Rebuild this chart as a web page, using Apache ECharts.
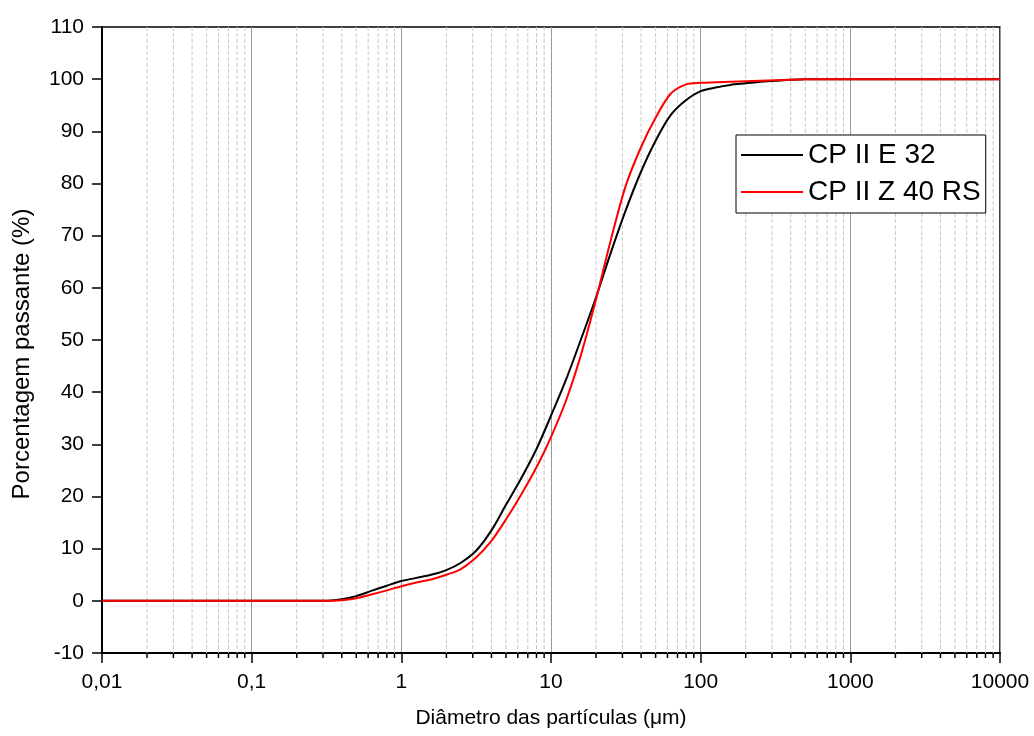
<!DOCTYPE html>
<html>
<head>
<meta charset="utf-8">
<script src="https://cdn.jsdelivr.net/npm/echarts@6/dist/echarts.min.js"></script>
<style>
html,body{margin:0;padding:0;background:#fff;}
#chart{width:1034px;height:736px;}
</style>
</head>
<body>
<div id="chart"></div>
<script>
// diametro das particulas (um)
var diametros = [0.01, 0.03, 0.1, 0.2, 0.3, 0.4, 0.5, 0.63, 0.8, 1, 1.26, 1.58, 2, 2.5, 3.16, 4, 5, 6.3, 8, 10, 12.6, 15.8, 20, 25, 31.6, 40, 50, 63, 80, 100, 126, 158, 200, 250, 316, 400, 500, 800, 1500, 3000, 10000];
// CP II E 32
var cpE32 = [0, 0, 0, 0, 0, 0.3, 0.9, 1.9, 2.9, 3.8, 4.4, 5.0, 5.9, 7.3, 9.6, 13.5, 18.4, 23.4, 29.1, 35.5, 42.4, 50.0, 58.2, 66.6, 74.9, 82.3, 88.2, 93.1, 96.0, 97.7, 98.4, 98.9, 99.2, 99.5, 99.7, 99.9, 100, 100, 100, 100, 100];
// CP II Z 40 RS
var cpZ40 = [0, 0, 0, 0, 0, 0.1, 0.5, 1.2, 2.0, 2.8, 3.5, 4.1, 5.0, 6.1, 8.3, 11.5, 15.6, 20.3, 25.6, 31.4, 38.4, 47.0, 57.8, 69.0, 79.6, 87.0, 92.6, 97.2, 99.0, 99.3, 99.4, 99.5, 99.6, 99.7, 99.8, 99.9, 100, 100, 100, 100, 100];
// ticks secundarios do eixo log
var decadas = [0.01, 0.1, 1, 10, 100, 1000];
var multiplos = [2, 3, 4, 5, 6, 7, 8, 9];

var yMin = -10, yMax = 110;

function pares(xs, ys){
  var out = [];
  for (var i = 0; i < xs.length; i++) out.push([xs[i], ys[i]]);
  return out;
}

var minorVals = [];
decadas.forEach(function(d){
  multiplos.forEach(function(m){ minorVals.push([+(d * m).toPrecision(3)]); });
});

var chart = echarts.init(document.getElementById('chart'));
var fonte = 'Liberation Sans, Arial, sans-serif';

var option = {
  backgroundColor: '#fff',
  animation: false,
  textStyle: { fontFamily: fonte },
  grid: {
    left: 102, right: 34, top: 27, bottom: 83,
    show: true, borderColor: '#000', borderWidth: 1.5, backgroundColor: 'transparent'
  },
  legend: {
    left: 736, top: 135,
    orient: 'vertical',
    backgroundColor: '#fff',
    borderColor: '#000', borderWidth: 1,
    padding: [6, 5, 7, 5],
    icon: 'rect',
    itemWidth: 62, itemHeight: 2, itemGap: 9,
    textStyle: { fontSize: 28, color: '#000', fontFamily: fonte },
    data: ['CP II E 32', 'CP II Z 40 RS']
  },
  xAxis: {
    type: 'log', logBase: 10,
    min: 0.01, max: 10000, splitNumber: 6,
    name: 'Diâmetro das partículas (μm)',
    nameLocation: 'middle', nameGap: 55,
    nameTextStyle: { fontSize: 21, color: '#000', fontFamily: fonte },
    axisLine: { onZero: false, lineStyle: { color: '#000', width: 2 } },
    axisTick: { inside: false, length: 10, lineStyle: { color: '#000', width: 1.5 } },
    axisLabel: {
      fontSize: 21, color: '#000', margin: 19,
      formatter: function(v){ return String(+v.toPrecision(6)).replace('.', ','); }
    },
    splitLine: { show: true, lineStyle: { color: '#999', width: 1 } }
  },
  yAxis: {
    type: 'value',
    min: yMin, max: yMax, interval: 10,
    name: 'Porcentagem passante (%)',
    nameLocation: 'middle', nameGap: 68,
    nameTextStyle: { fontSize: 24, color: '#000', fontFamily: fonte, padding: [0, 28, 0, 0] },
    axisLine: { show: true, lineStyle: { color: '#000', width: 2 } },
    axisTick: { show: true, inside: false, length: 10, lineStyle: { color: '#000', width: 1.5 } },
    axisLabel: { fontSize: 21, color: '#000', margin: 18 },
    splitLine: { show: false }
  },
  series: [
    {
      // linhas de grade e ticks secundarios
      type: 'custom',
      silent: true,
      clip: false,
      z: 1,
      data: minorVals,
      renderItem: function(params, api){
        var v = api.value(0);
        var top = api.coord([v, yMax]);
        var bot = api.coord([v, yMin]);
        return {
          type: 'group',
          children: [
            { type: 'line', shape: { x1: top[0], y1: top[1], x2: bot[0], y2: bot[1] },
              style: { stroke: '#c8c8c8', lineWidth: 1, lineDash: [4, 2] } },
            { type: 'line', shape: { x1: bot[0], y1: bot[1], x2: bot[0], y2: bot[1] + 5 },
              style: { stroke: '#000', lineWidth: 1.5 } }
          ]
        };
      }
    },
    {
      name: 'CP II E 32',
      type: 'line',
      data: pares(diametros, cpE32),
      smooth: 0.3,
      symbol: 'none',
      z: 3,
      lineStyle: { color: '#000', width: 2 },
      itemStyle: { color: '#000' }
    },
    {
      name: 'CP II Z 40 RS',
      type: 'line',
      data: pares(diametros, cpZ40),
      smooth: 0.3,
      symbol: 'none',
      z: 4,
      lineStyle: { color: '#ff0000', width: 2 },
      itemStyle: { color: '#ff0000' }
    }
  ]
};
chart.setOption(option);
</script>
</body>
</html>
